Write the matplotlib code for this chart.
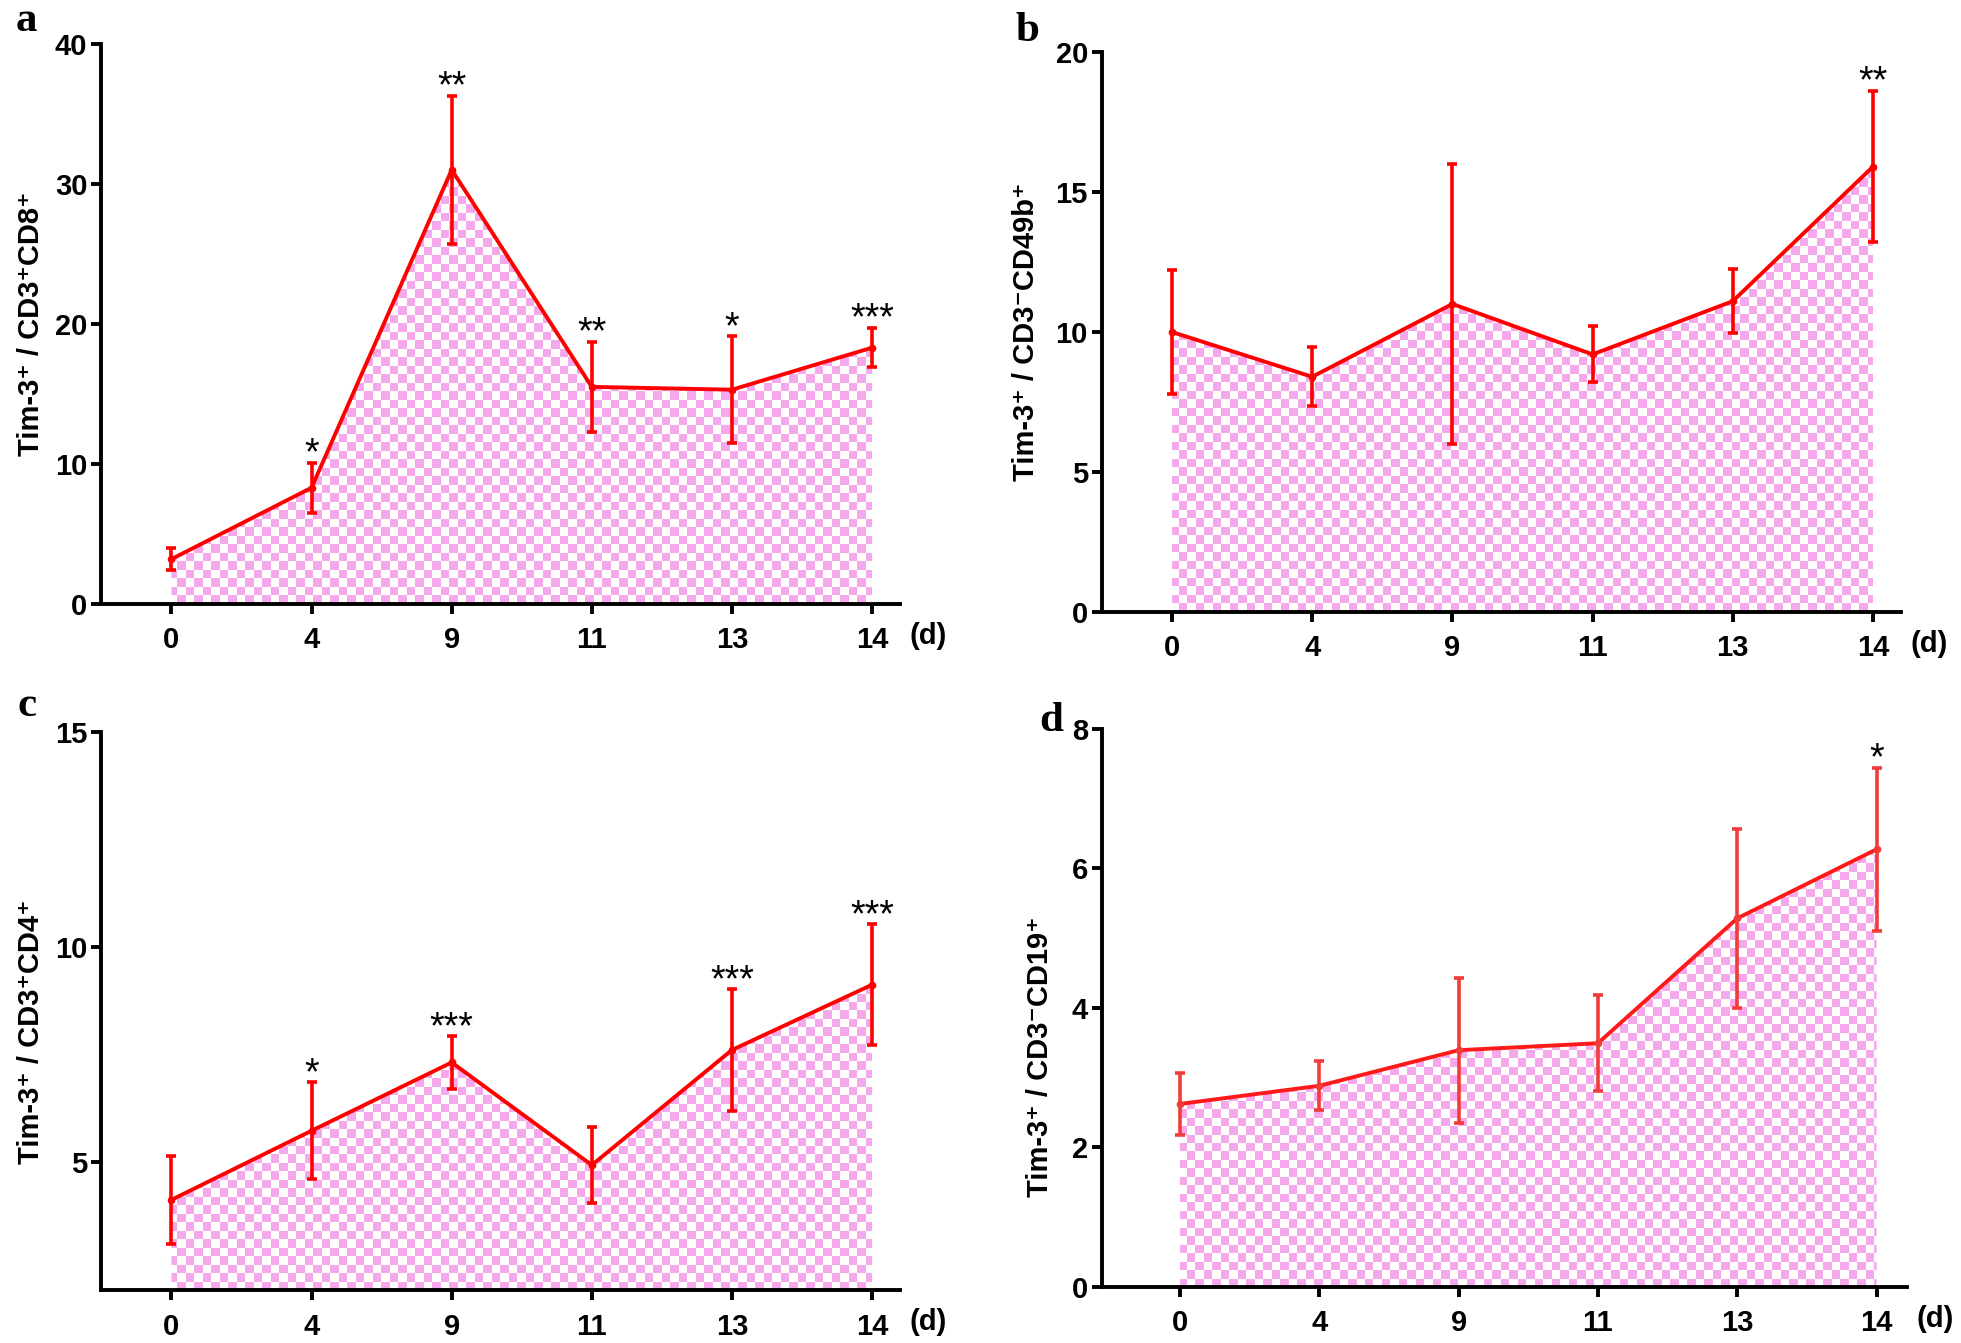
import numpy as np
import matplotlib
matplotlib.use('Agg')
import matplotlib.pyplot as plt
from matplotlib.patches import Polygon

plt.rcParams['font.family'] = ['Liberation Sans', 'DejaVu Sans']
plt.rcParams['font.weight'] = 'bold'

days = ['0', '4', '9', '11', '13', '14']

# panel a: Tim-3+ / CD3+CD8+
mean_a = [3.2, 8.3, 31.0, 15.5, 15.3, 18.3]
err_a = [0.8, 1.8, 5.3, 3.2, 3.8, 1.4]
star_a = ['', '*', '**', '**', '*', '***']

# panel b: Tim-3+ / CD3-CD49b+
mean_b = [10.0, 8.4, 11.0, 9.2, 11.1, 15.9]
err_b = [2.2, 1.05, 5.0, 1.0, 1.15, 2.7]
star_b = ['', '', '', '', '', '**']

# panel c: Tim-3+ / CD3+CD4+
mean_c = [4.11, 5.72, 7.31, 4.92, 7.6, 9.12]
err_c = [1.02, 1.13, 0.61, 0.88, 1.41, 1.41]
star_c = ['', '*', '***', '', '***', '***']

# panel d: Tim-3+ / CD3-CD19+
mean_d = [2.62, 2.88, 3.39, 3.49, 5.28, 6.27]
err_d = [0.45, 0.35, 1.04, 0.69, 1.28, 1.17]
star_d = ['', '', '', '', '', '*']

red = '#ff0000'
pink = np.array([246, 168, 236]) / 255
white = np.array([1.0, 1.0, 1.0])


def checker(ax, x, y, ybase, cell=8.5):
    fig = ax.figure
    bb = ax.get_position()
    wpx = bb.width * fig.get_figwidth() * fig.dpi
    hpx = bb.height * fig.get_figheight() * fig.dpi
    nx = int(round(wpx / cell))
    ny = int(round(hpx / cell))
    grid = np.add.outer(np.arange(ny), np.arange(nx)) % 2
    rgb = np.where(grid[..., None] == 0, pink, white)
    xl = ax.get_xlim()
    yl = ax.get_ylim()
    im = ax.imshow(rgb, extent=(xl[0], xl[1], yl[0], yl[1]), aspect='auto',
                   interpolation='nearest', zorder=1)
    verts = [(x[0], ybase)] + list(zip(x, y)) + [(x[-1], ybase)]
    poly = Polygon(verts, closed=True, facecolor='none', edgecolor='none',
                   transform=ax.transData)
    ax.add_patch(poly)
    im.set_clip_path(poly)
    ax.set_xlim(xl)
    ax.set_ylim(yl)


def panel(fig, rect, mean, err, stars, ylim, yticks, ylabel, lab_xy,
          letter, letter_xy, ecolor=red, lcolor=red, xlim=(-0.5, 5.2)):
    ax = fig.add_axes(rect)
    x = np.arange(len(days))
    ax.set_xlim(xlim)
    ax.set_ylim(ylim)
    checker(ax, x, mean, ylim[0])
    ax.plot(x, mean, color=lcolor, lw=2.8, zorder=3)
    ax.errorbar(x, mean, yerr=err, fmt='o', color=ecolor, ms=4.5,
                elinewidth=2.6, capsize=3.6, capthick=2.6, zorder=4)
    for xi, m, e, s in zip(x, mean, err, stars):
        if s:
            ax.annotate(s, (xi, m + e), xytext=(0, -7), textcoords='offset points',
                        ha='center', va='bottom', fontsize=27, fontweight='normal')
    ax.set_xticks(x)
    ax.set_xticklabels(days)
    ax.set_yticks(yticks)
    for side in ['top', 'right']:
        ax.spines[side].set_visible(False)
    for side in ['left', 'bottom']:
        ax.spines[side].set_linewidth(2.8)
    ax.tick_params(width=2.8, length=7, labelsize=21)
    ax.tick_params(axis='x', pad=9)
    ax.tick_params(axis='y', pad=3)
    ax.set_ylabel(ylabel, fontsize=21, fontweight='bold')
    ax.yaxis.set_label_coords(*lab_xy)
    ax.text(1.035, -0.057, '(d)', transform=ax.transAxes, ha='center',
            va='center', fontsize=21, fontweight='bold')
    fig.text(letter_xy[0], letter_xy[1], letter, family='Liberation Serif',
             fontweight='bold', fontsize=31, ha='center', va='center')
    return ax


fig = plt.figure(figsize=(19.61, 13.43), dpi=100)

panel(fig, [0.0517, 0.5503, 0.4073, 0.4171], mean_a, err_a, star_a,
      (0, 40), [0, 10, 20, 30, 40], 'Tim-3\u207a / CD3\u207aCD8\u207a',
      (-0.07, 0.5), 'a', (0.0135, 0.984))
panel(fig, [0.5619, 0.5442, 0.4075, 0.4172], mean_b, err_b, star_b,
      (0, 20), [0, 5, 10, 15, 20], 'Tim-3\u207a / CD3\u207bCD49b\u207a',
      (-0.077, 0.5), 'b', (0.524, 0.977))
panel(fig, [0.0517, 0.0391, 0.4073, 0.4157], mean_c, err_c, star_c,
      (2, 15), [5, 10, 15], 'Tim-3\u207a / CD3\u207aCD4\u207a',
      (-0.07, 0.464), 'c', (0.014, 0.474))
panel(fig, [0.5619, 0.0419, 0.4107, 0.4156], mean_d, err_d, star_d,
      (0, 8), [0, 2, 4, 6, 8], 'Tim-3\u207a / CD3\u207bCD19\u207a',
      (-0.059, 0.412), 'd', (0.536, 0.463), ecolor='#f23c3c', lcolor='#ff1a1a',
      xlim=(-0.56, 5.22))

fig.savefig('out.png', dpi=100)
